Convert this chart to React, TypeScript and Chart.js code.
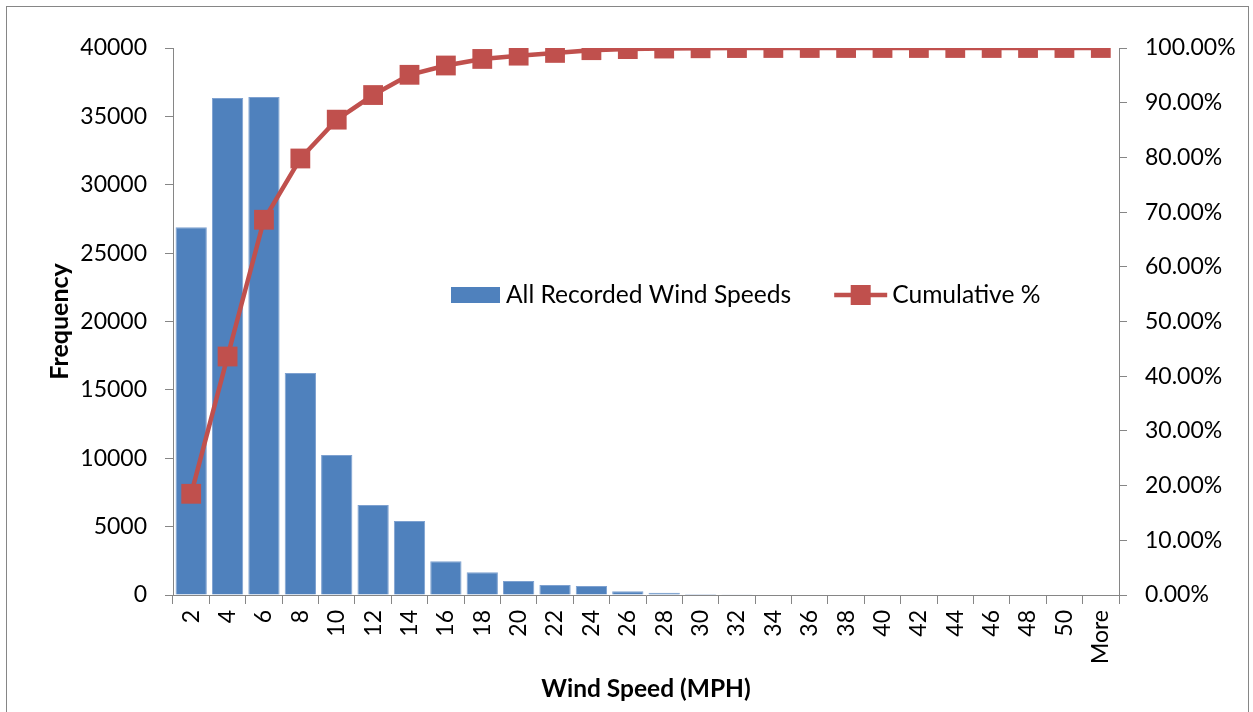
import React, { useEffect, useRef } from 'react';
import { Chart, registerables } from 'chart.js';

Chart.register(...registerables);

const categories = ['2', '4', '6', '8', '10', '12', '14', '16', '18', '20', '22', '24', '26', '28', '30', '32', '34', '36', '38', '40', '42', '44', '46', '48', '50', 'More'];
const frequency = [26900, 36340, 36420, 16230, 10240, 6580, 5410, 2460, 1660, 1020, 730, 660, 270, 170, 80, 60, 0, 0, 0, 0, 0, 0, 0, 0, 0, 0];
const cumulativePct = [18.5, 43.6, 68.6, 79.8, 86.9, 91.4, 95.1, 96.8, 98.0, 98.6, 99.1, 99.6, 99.8, 99.9, 99.95, 99.99, 100, 100, 100, 100, 100, 100, 100, 100, 100, 100];

const barLabel = 'All Recorded Wind Speeds';
const lineLabel = 'Cumulative %';
const xTitle = 'Wind Speed (MPH)';
const yTitle = 'Frequency';

const FONT = 'Lato';
const AXIS = '#868686';
const BLUE = '#4F81BD';
const RED = '#C0504D';

const legendPlugin = {
  id: 'customLegend',
  afterDraw(chart: any) {
    const ctx = chart.ctx;
    ctx.save();
    ctx.font = `24.6px ${FONT}`;
    ctx.textBaseline = 'middle';
    ctx.textAlign = 'left';
    const y = 295;
    let x = 451;
    ctx.fillStyle = BLUE;
    ctx.fillRect(x, y - 8, 49, 16);
    x += 49 + 6;
    ctx.fillStyle = '#000';
    ctx.fillText(barLabel, x, y);
    x += ctx.measureText(barLabel).width + 43;
    ctx.strokeStyle = RED;
    ctx.lineWidth = 4.5;
    ctx.beginPath();
    ctx.moveTo(x, y);
    ctx.lineTo(x + 53, y);
    ctx.stroke();
    ctx.fillStyle = RED;
    ctx.fillRect(x + 26.5 - 10, y - 10, 20, 20);
    x += 53 + 5;
    ctx.fillStyle = '#000';
    ctx.fillText(lineLabel, x, y);
    ctx.restore();
  },
};

export default function App() {
  const ref = useRef<HTMLCanvasElement | null>(null);

  useEffect(() => {
    if (!ref.current) return;
    Chart.defaults.font.family = FONT;
    Chart.defaults.color = '#000';
    const chart = new Chart(ref.current, {
      type: 'bar',
      data: {
        labels: categories,
        datasets: [
          {
            type: 'bar',
            label: barLabel,
            data: frequency,
            backgroundColor: BLUE,
            borderColor: '#7EA1D0',
            borderWidth: 1,
            yAxisID: 'y',
            categoryPercentage: 1,
            barPercentage: 0.86,
            order: 2,
          } as any,
          {
            type: 'line',
            label: lineLabel,
            data: cumulativePct,
            borderColor: RED,
            backgroundColor: RED,
            borderWidth: 4.5,
            pointStyle: 'rect',
            pointRadius: 14,
            pointBorderWidth: 0,
            pointBackgroundColor: RED,
            tension: 0,
            yAxisID: 'y1',
            order: 1,
          } as any,
        ],
      },
      options: {
        responsive: false,
        animation: false,
        layout: { padding: { top: 48, left: 0, right: 0, bottom: 0 } },
        plugins: {
          legend: { display: false },
          tooltip: { enabled: false },
        },
        scales: {
          x: {
            grid: { display: true, drawOnChartArea: false, drawTicks: true, tickLength: 9, color: AXIS, offset: true },
            border: { display: true, color: AXIS, width: 1 },
            ticks: { minRotation: 90, maxRotation: 90, autoSkip: false, padding: 6, font: { size: 23 }, color: '#000' },
            title: { display: true, text: xTitle, font: { size: 24.5, weight: 'bold' }, color: '#000', padding: { top: 0, bottom: 8 } },
            afterFit: (s: any) => { s.height = 117; },
          },
          y: {
            position: 'left',
            min: 0,
            max: 40000,
            ticks: { stepSize: 5000, padding: 18, font: { size: 23 }, color: '#000', callback: (v: any) => String(v) },
            grid: { display: true, drawOnChartArea: false, drawTicks: true, tickLength: 8, color: AXIS },
            border: { display: true, color: AXIS, width: 1 },
            title: { display: true, text: yTitle, font: { size: 25, weight: 'bold' }, color: '#000', padding: { top: 45, bottom: 0 } },
            afterFit: (s: any) => { s.width = 173; },
          },
          y1: {
            position: 'right',
            min: 0,
            max: 100,
            ticks: { stepSize: 10, padding: 18, font: { size: 23 }, color: '#000', callback: (v: any) => Number(v).toFixed(2) + '%' },
            grid: { display: true, drawOnChartArea: false, drawTicks: true, tickLength: 8, color: AXIS },
            border: { display: true, color: AXIS, width: 1 },
            afterFit: (s: any) => { s.width = 134; },
          },
        },
      } as any,
      plugins: [legendPlugin],
    });
    return () => chart.destroy();
  }, []);

  return (
    <div style={{ position: 'fixed', left: 0, top: 0, width: 1253, height: 712, background: '#fff', overflow: 'hidden' }}>
      <div style={{ position: 'absolute', left: 6, top: 6, width: 1243, height: 720, border: '1px solid #868686', boxSizing: 'border-box' }} />
      <canvas ref={ref} width={1253} height={712} style={{ position: 'absolute', left: 0, top: 0 }} />
    </div>
  );
}
